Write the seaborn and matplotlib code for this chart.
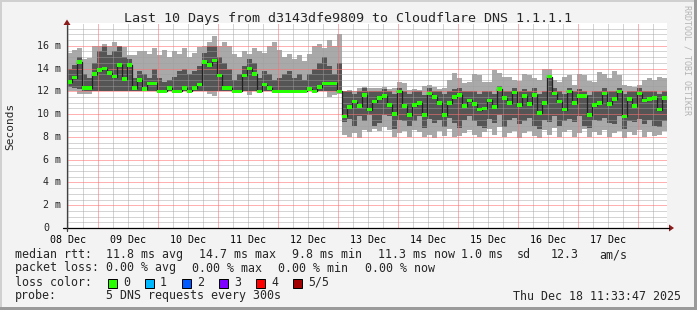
import numpy as np
import seaborn as sns
import matplotlib
matplotlib.use("Agg")
import matplotlib.pyplot as plt
from matplotlib.transforms import blended_transform_factory
from matplotlib.patches import Rectangle, Polygon
from matplotlib.lines import Line2D

# ---------------- data (values in milliseconds, 120 steps over 10 days) ----------------
median_ms = [
    12.8, 13.2, 14.6, 12.3, 12.3, 13.5, 13.9, 14.0, 13.6, 13.3,
    14.3, 13.1, 14.3, 12.3, 13.0, 12.2, 12.7, 12.7, 12.0, 12.0,
    12.3, 12.0, 12.0, 12.3, 12.0, 12.3, 12.6, 14.6, 14.3, 14.7,
    13.4, 12.3, 12.3, 12.0, 12.0, 13.4, 14.0, 13.5, 12.0, 12.6,
    12.3, 12.0, 12.0, 12.0, 12.0, 12.0, 12.0, 12.0, 12.2, 12.0,
    12.4, 12.7, 12.7, 12.7, 12.0, 9.8, 10.6, 11.1, 10.7, 11.7,
    10.4, 11.1, 11.4, 11.6, 10.8, 10.0, 12.0, 10.7, 9.9, 10.8,
    11.0, 9.9, 11.8, 11.5, 11.0, 9.9, 11.0, 11.5, 11.7, 10.7,
    11.2, 10.9, 10.4, 10.5, 11.2, 10.6, 12.2, 11.4, 11.0, 11.9,
    10.8, 11.6, 10.9, 11.7, 10.1, 11.0, 13.3, 11.8, 11.1, 10.4,
    12.0, 11.0, 11.6, 11.6, 9.9, 10.8, 11.0, 11.8, 10.9, 11.3,
    12.0, 9.8, 11.3, 10.7, 11.8, 11.2, 11.3, 11.4, 10.4, 11.4,
]
inner_low_ms = [
    12.4, 12.3, 12.2, 12.0, 12.0, 12.0, 12.0, 12.0, 12.0, 12.0,
    12.0, 12.0, 12.0, 12.0, 12.0, 12.0, 12.0, 12.0, 12.0, 12.0,
    12.0, 12.0, 12.0, 12.0, 12.0, 12.0, 12.0, 12.0, 12.0, 12.0,
    12.0, 12.0, 12.0, 12.0, 12.0, 12.0, 12.0, 12.0, 12.0, 12.0,
    12.0, 12.0, 12.0, 12.0, 12.0, 12.0, 12.0, 12.0, 12.0, 12.0,
    12.0, 12.0, 12.0, 12.0, 12.0, 9.3, 9.6, 9.0, 9.8, 9.4,
    9.9, 9.0, 9.2, 9.9, 9.8, 8.7, 9.5, 9.4, 9.0, 9.4,
    9.8, 8.8, 9.6, 9.2, 9.5, 8.9, 9.7, 9.2, 8.8, 9.5,
    9.8, 9.4, 9.0, 8.8, 9.6, 9.2, 9.9, 8.9, 9.5, 9.7,
    9.1, 9.4, 9.7, 9.0, 8.7, 9.5, 9.3, 9.8, 9.0, 9.4,
    9.6, 9.3, 9.8, 9.0, 8.8, 9.5, 9.4, 9.7, 9.2, 9.1,
    9.8, 8.7, 9.4, 9.3, 9.6, 9.1, 9.5, 9.0, 8.9, 9.4,
]
inner_high_ms = [
    14.0, 14.3, 15.0, 13.5, 13.2, 14.5, 15.5, 16.0, 15.2, 15.5,
    16.0, 15.0, 14.8, 13.2, 13.8, 13.5, 13.2, 14.0, 13.2, 12.8,
    13.0, 13.3, 13.8, 14.0, 13.5, 13.8, 14.2, 15.4, 16.0, 16.0,
    15.0, 14.5, 14.0, 13.0, 13.5, 14.2, 14.8, 14.5, 13.2, 13.8,
    13.5, 13.0, 13.2, 13.5, 13.8, 13.2, 13.5, 13.0, 13.5, 14.0,
    14.5, 15.0, 14.2, 13.5, 14.5, 12.0, 12.0, 11.8, 12.0, 12.3,
    12.0, 12.0, 12.0, 12.2, 12.0, 11.8, 12.3, 12.0, 11.8, 12.0,
    12.0, 11.7, 12.3, 12.0, 12.0, 11.8, 12.0, 12.2, 12.3, 12.0,
    12.0, 12.0, 11.8, 12.0, 12.0, 11.8, 12.5, 12.0, 12.0, 12.3,
    12.0, 12.2, 12.0, 12.3, 11.8, 12.0, 13.4, 12.3, 12.0, 11.8,
    12.3, 12.0, 12.2, 12.0, 11.7, 12.0, 12.0, 12.3, 12.0, 12.0,
    12.3, 11.8, 12.0, 12.0, 12.3, 12.0, 12.0, 12.0, 11.8, 12.0,
]
outer_low_ms = [
    12.0, 12.0, 11.8, 11.8, 11.8, 12.0, 12.0, 12.0, 12.0, 12.0,
    12.0, 12.0, 12.0, 12.0, 12.0, 12.0, 12.0, 12.0, 12.0, 12.0,
    12.0, 12.0, 12.0, 12.0, 12.0, 12.0, 12.0, 12.0, 11.8, 11.6,
    12.0, 12.0, 12.0, 12.0, 12.0, 12.0, 11.7, 12.0, 12.0, 12.0,
    12.0, 12.0, 12.0, 12.0, 12.0, 12.0, 12.0, 12.0, 12.0, 12.0,
    12.0, 12.0, 11.5, 11.7, 11.8, 8.2, 8.0, 8.3, 7.9, 8.6,
    8.4, 8.7, 8.5, 8.9, 8.6, 8.0, 8.3, 8.5, 8.0, 8.6,
    8.4, 8.0, 8.2, 7.9, 8.5, 8.1, 8.7, 8.0, 8.1, 8.3,
    8.6, 8.2, 8.0, 8.4, 8.7, 8.2, 8.9, 8.0, 8.3, 8.5,
    7.9, 8.3, 8.5, 8.1, 7.9, 8.6, 8.2, 8.8, 8.0, 8.4,
    8.6, 8.0, 8.3, 8.7, 8.0, 8.4, 8.2, 8.6, 8.0, 8.3,
    8.5, 7.9, 8.4, 8.2, 8.6, 8.0, 8.4, 8.1, 8.2, 8.5,
]
outer_high_ms = [
    15.4, 15.6, 15.8, 14.8, 14.9, 16.0, 16.0, 16.2, 16.0, 16.3,
    16.0, 15.9, 15.2, 15.2, 15.5, 15.5, 15.3, 15.8, 15.2, 15.6,
    15.0, 15.5, 15.3, 15.8, 15.0, 15.4, 15.9, 16.0, 16.3, 16.9,
    16.0, 16.3, 16.0, 15.3, 15.0, 15.5, 15.3, 15.8, 15.5, 15.4,
    16.0, 16.3, 15.6, 15.0, 15.3, 14.8, 15.2, 14.7, 15.3, 16.0,
    16.2, 15.8, 16.5, 16.0, 17.0, 12.0, 12.1, 12.0, 12.3, 12.4,
    12.3, 12.3, 12.3, 12.4, 12.2, 12.3, 12.8, 12.7, 12.1, 12.2,
    12.1, 12.5, 12.6, 12.4, 12.2, 12.3, 13.0, 13.6, 13.2, 12.7,
    12.8, 13.5, 13.4, 12.8, 12.8, 13.9, 13.6, 13.3, 13.3, 13.0,
    12.9, 13.5, 13.4, 13.2, 13.0, 14.0, 14.0, 13.0, 12.8, 13.3,
    13.4, 12.6, 13.5, 13.4, 12.9, 12.8, 13.7, 13.5, 13.2, 13.8,
    13.4, 12.6, 12.5, 12.4, 12.6, 13.0, 13.2, 13.0, 13.3, 13.2,
]
day_labels = ["08 Dec", "09 Dec", "10 Dec", "11 Dec", "12 Dec",
              "13 Dec", "14 Dec", "15 Dec", "16 Dec", "17 Dec"]
y_tick_values = [0, 2, 4, 6, 8, 10, 12, 14, 16]
loss_labels = ["0", "1", "2", "3", "4", "5/5"]
loss_colors = ["#26ff00", "#00b8ff", "#0059ff", "#7e00ff", "#ff0000", "#a10000"]

# ---------------- figure ----------------
sns.set_style("white")
plt.rcParams['font.family'] = ['DejaVu Sans Mono', 'DejaVu Sans']

W, H = 697, 310
fig = plt.figure(figsize=(W / 100, H / 100), dpi=100)
fig.patch.set_facecolor('#f3f3f3')

def fx(x):
    return x / W

def fy(y):
    return 1 - y / H

L, R, T, B = 67, 667, 23, 228
ax = fig.add_axes([fx(L), fy(B), (R - L) / W, (B - T) / H])
ax.set_facecolor('white')
ax.set_xlim(0, 10)
ax.set_ylim(0, 18.0)
for s in ax.spines.values():
    s.set_visible(False)

n = len(median_ms)
dt = 10.0 / n
xe = np.arange(n + 1) * dt
xl = np.arange(n) * dt

def ext(a):
    a = np.asarray(a, dtype=float)
    return np.append(a, a[-1])

ax.fill_between(xe, ext(outer_low_ms), ext(outer_high_ms), step='post',
                color='#a9a9a9', lw=0, zorder=1)
ax.fill_between(xe, ext(inner_low_ms), ext(inner_high_ms), step='post',
                color='#555555', lw=0, zorder=1.5)

# grid (dotted, semi-transparent, drawn over the smoke)
off = (24 - (11 + 33 / 60 + 47 / 3600)) / 24  # first midnight
px_lw = 0.72
grid_kw = dict(lw=px_lw, dashes=(1, 1), antialiased=False)
minor_x = [off - 0.5 + 0.25 * k for k in range(45)]
for xv in minor_x:
    if 0 < xv < 10 and abs((xv - off) - round(xv - off)) > 1e-6:
        ax.axvline(xv, color='#a0a0a0', alpha=0.45, zorder=2, **grid_kw)
for yv in np.arange(0.5, 18.0, 0.5):
    if abs(yv / 2 - round(yv / 2)) > 1e-6:
        ax.axhline(yv, color='#a0a0a0', alpha=0.45, zorder=2, **grid_kw)
for k in range(10):
    xv = off + k
    if 0 < xv < 10:
        ax.axvline(xv, color='#ff7070', alpha=0.55, zorder=2.1, **grid_kw)
for yv in y_tick_values[1:]:
    ax.axhline(yv, color='#ff7070', alpha=0.55, zorder=2.1, **grid_kw)

# median: black stepped line + green loss-colored marks
sns.lineplot(x=xe, y=ext(median_ms), drawstyle='steps-post', color='#202020',
             lw=0.9, estimator=None, ax=ax, zorder=3)
ax.bar(xl, height=0.32, bottom=np.asarray(median_ms) - 0.16, width=dt,
       align='edge', color=loss_colors[0], lw=0, zorder=4)

# ticks
ax.set_xticks([off - 0.5 + k for k in range(10)])
ax.set_xticklabels(day_labels, fontsize=7.2)
ax.set_xticks([off + k for k in range(10)], minor=True)
ax.tick_params(axis='x', which='major', length=0, pad=5, colors='black')
ax.tick_params(axis='x', which='minor', length=2.5, width=0.72, color='#e06060',
               direction='out')
ax.set_yticks(y_tick_values)
ax.set_yticklabels([])
ax.tick_params(axis='y', which='major', length=2.2, width=0.72, color='#404040',
               direction='inout')
ax.set_xlabel("")
ax.set_ylabel("")

tr = blended_transform_factory(fig.transFigure, ax.transData)
for v in y_tick_values:
    if v == 0:
        fig.text(fx(46), 0, "0", transform=tr, ha='center', va='center', fontsize=7.2)
    else:
        fig.text(fx(61), v, f"{v} m", transform=tr, ha='right', va='center', fontsize=7.2)

# axis lines + arrows
axis_col = '#000000'
arrow_col = '#8b1a1a'
fig.add_artist(Line2D([fx(63), fx(669)], [fy(228), fy(228)], color=axis_col, lw=0.9))
fig.add_artist(Line2D([fx(67), fx(67)], [fy(231), fy(25)], color='#404040', lw=0.9))
fig.add_artist(Polygon([[fx(669), fy(224.5)], [fx(669), fy(231.5)], [fx(674), fy(228)]],
                       closed=True, color=arrow_col, lw=0))
fig.add_artist(Polygon([[fx(63.5), fy(25)], [fx(70.5), fy(25)], [fx(67), fy(19.5)]],
                       closed=True, color=arrow_col, lw=0))

# title, labels
fig.text(fx(348), fy(18.5), "Last 10 Days from d3143dfe9809 to Cloudflare DNS 1.1.1.1",
         ha='center', va='center', fontsize=9.6)
fig.text(fx(10), fy(126), "Seconds", rotation=90, ha='center', va='center', fontsize=8.0)
fig.text(fx(687), fy(60), "RRDTOOL / TOBI OETIKER", rotation=-90, ha='center',
         va='center', fontsize=6.0, color='#b4b4b4')

fs = 8.35
def lt(x, y, s, **kw):
    fig.text(fx(x), fy(y), s, ha='left', va='center', fontsize=fs, **kw)

y1, y2, y3, y4 = 254.5, 268, 282, 296
lt(15, y1, "median rtt:")
lt(106, y1, "11.8 ms avg")
lt(199, y1, "14.7 ms max")
lt(292, y1, "9.8 ms min")
lt(378, y1, "11.3 ms now")
lt(461, y1, "1.0 ms")
lt(517, y1, "sd")
lt(551, y1, "12.3")
lt(599, y1, "am/s")

lt(15, y2, "packet loss:")
lt(106, y2, "0.00 % avg")
lt(192, y2, "0.00 % max")
lt(278, y2, "0.00 % min")
lt(365, y2, "0.00 % now")

lt(15, y3, "loss color:")
for i, (lab, col) in enumerate(zip(loss_labels, loss_colors)):
    x0 = 108 + 37 * i
    fig.add_artist(Rectangle((fx(x0), fy(287.5)), 9 / W, 9 / H, facecolor=col,
                             edgecolor='black', lw=0.72))
    lt(x0 + 15, y3, lab)

lt(15, y4, "probe:")
lt(106, y4, "5 DNS requests every 300s")
fig.text(fx(681), fy(y4), "Thu Dec 18 11:33:47 2025", ha='right', va='center', fontsize=fs)

# frame of the canvas
fig.add_artist(Rectangle((0, 0), fx(2), 1, facecolor='#d0d0d0', lw=0))
fig.add_artist(Rectangle((0, fy(2)), 1, 2 / H, facecolor='#d0d0d0', lw=0))
fig.add_artist(Rectangle((fx(694), 0), 3 / W, 1, facecolor='#9a9a9a', lw=0))
fig.add_artist(Rectangle((0, 0), 1, 3 / H, facecolor='#9a9a9a', lw=0))

fig.savefig("out.png", dpi=100, facecolor=fig.get_facecolor())
